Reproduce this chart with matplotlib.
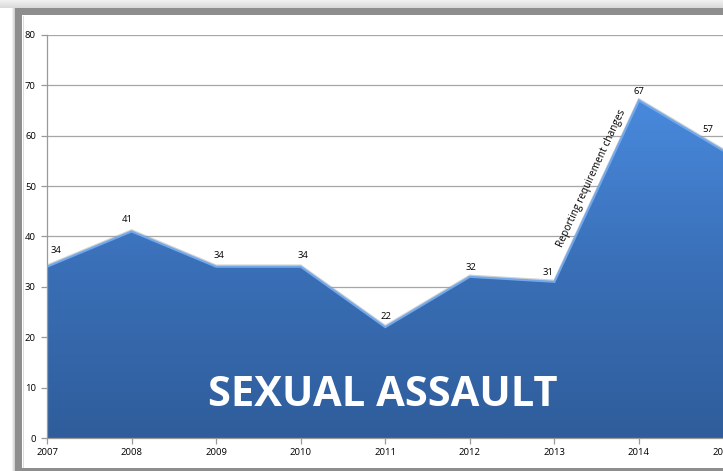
import matplotlib
matplotlib.use("Agg")
import matplotlib.pyplot as plt
import numpy as np
from matplotlib.patches import Rectangle, Polygon
from matplotlib.colors import LinearSegmentedColormap

years = [2007, 2008, 2009, 2010, 2011, 2012, 2013, 2014, 2015]
values = [34, 41, 34, 34, 22, 32, 31, 67, 57]
yticks = [0, 10, 20, 30, 40, 50, 60, 70, 80]
title_text = "SEXUAL ASSAULT"
note_text = "Reporting requirement changes"

# label offsets in pixels (dx, dy up)
label_offsets = [(9, 16), (-4, 12), (3, 11), (2, 11), (1, 11), (1, 9), (-6, 9), (0, 9), (-16, 21)]

W, H = 723, 471
fig = plt.figure(figsize=(W / 100, H / 100), dpi=100)
fig.patch.set_facecolor("white")

def px(x0, y0, w, h, **kw):
    r = Rectangle((x0 / W, 1 - (y0 + h) / H), w / W, h / H, transform=fig.transFigure, **kw)
    fig.add_artist(r)
    return r

# outer shadow at top
for i in range(8):
    c = 0.94 - 0.012 * i
    px(0, i, W, 1, facecolor=(c, c, c), edgecolor="none", zorder=0)
for i in range(15):
    c = 1.0 - 0.06 * max(0, i - 11)
    px(i, 8, 1, H, facecolor=(c, c, c), edgecolor="none", zorder=0)
# frame
px(15, 8, W, H, facecolor="#8e8e8e", edgecolor="none", zorder=0)
px(22, 15, W, 453, facecolor="white", edgecolor="none", zorder=0)
px(23, 16, 1.2, 452, facecolor="#dcdcdc", edgecolor="none", zorder=0)

# axes placement
x_left = 47
x_per_year = 84.57
xmax = 2015.3
y_bottom = 438
y_top = 35
ax = fig.add_axes([x_left / W, 1 - y_bottom / H,
                   (xmax - 2007) * x_per_year / W, (y_bottom - y_top) / H])
ax.set_xlim(2007, xmax)
ax.set_ylim(0, 80)
ax.patch.set_alpha(0)
ax.set_zorder(1)

for s in ["top", "right"]:
    ax.spines[s].set_visible(False)
ax.spines["left"].set_color("#9a9a9a")
ax.spines["bottom"].set_color("#9a9a9a")
ax.spines["left"].set_linewidth(0.9)
ax.spines["bottom"].set_linewidth(0.9)

ax.set_yticks(yticks)
ax.set_xticks(years)
ax.set_xticklabels([str(y) for y in years])
ax.tick_params(axis="both", colors="#9a9a9a", labelcolor="black", labelsize=6.8,
               length=4, width=0.9, direction="out")
for lab in ax.get_xticklabels() + ax.get_yticklabels():
    lab.set_fontfamily("Open Sans")
ax.tick_params(axis="y", pad=4)
ax.tick_params(axis="x", pad=3)
ax.yaxis.grid(True, color="#a6a6a6", linewidth=0.9)
ax.set_axisbelow(True)

# gradient area
poly_pts = [(years[0], 0)] + list(zip(years, values)) + [(years[-1], 0)]
poly = Polygon(poly_pts, closed=True, facecolor="none", edgecolor="none")
ax.add_patch(poly)
cmap = LinearSegmentedColormap.from_list("g", ["#2f5d9b", "#3a70b8", "#4a8ce0"])
grad = np.linspace(0, 1, 256).reshape(-1, 1)
im = ax.imshow(grad, extent=[2007, 2015, 0, 70], origin="lower", aspect="auto",
               cmap=cmap, zorder=2)
im.set_clip_path(poly)

# edge: shadow + highlight
ax.plot(years, np.array(values) + 0.2, color="#9a9a9a", lw=1.8, alpha=0.45, zorder=3,
        solid_joinstyle="miter")
ax.plot(years, values, color="#72a8ec", lw=1.5, zorder=4, solid_joinstyle="miter")
ax.set_xlim(2007, xmax)
ax.set_ylim(0, 80)

# data labels
for x, v, (dx, dy) in zip(years, values, label_offsets):
    ax.annotate(str(v), (x, v), xytext=(dx * 0.72, dy * 0.72), textcoords="offset points",
                ha="center", va="center", fontsize=6.8, family="Open Sans", color="black",
                zorder=6, annotation_clip=False)

# annotation along rising segment
ax.annotate(note_text, (2013, values[6]), xytext=(591 - 554, -(179 - 282)),
            textcoords="offset pixels", rotation=65.2, ha="center", va="center",
            fontsize=7.3, family="Open Sans", color="black", zorder=6,
            rotation_mode="anchor")

# big title
fig.text(382.5 / W, 1 - 396 / H, title_text, ha="center", va="center",
         fontsize=30, fontweight="bold", family="Open Sans", color="white", zorder=10)

fig.savefig("out.png", dpi=100)
